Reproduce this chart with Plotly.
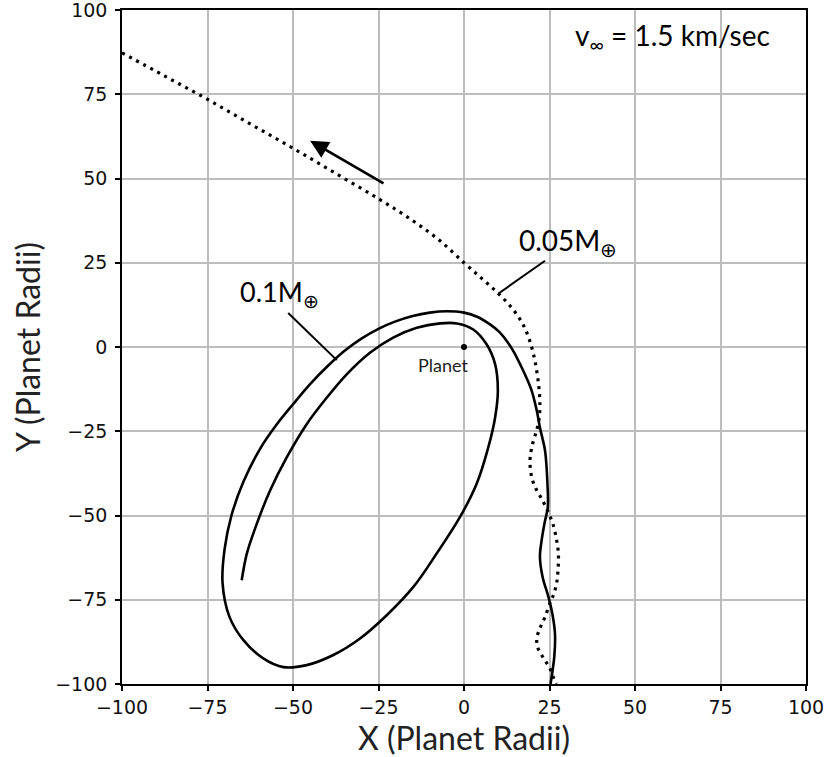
import plotly.graph_objects as go

# 0.05 Earth-mass trajectory (dotted, escaping)
x_005 = [-100, -87.5, -75, -62.5, -50, -37.5, -25, -15, -7, 0, 5, 9.6, 13.8, 17, 19, 20.4,
         21.4, 22, 22.2, 22, 21.3, 20, 19.3, 19.8, 21, 22.7, 24.4, 26, 27.1, 27.6, 27.5, 27.1,
         26.2, 25.3, 23.7, 22.2, 21.3, 21.5, 22.7, 24, 25.1, 26.6, 27]
y_005 = [87.3, 80.4, 73.5, 66.2, 59, 51.5, 44, 37.5, 31.5, 25, 20.5, 16.3, 11.8, 7.2, 2.5, -2.5,
         -8, -13, -17.5, -21, -24.5, -29, -33.7, -38.7, -42, -45, -48.5, -52.5, -57.4, -61.3, -66, -70,
         -73.5, -75.5, -80.1, -83.5, -86.4, -89, -91.4, -93.5, -95.3, -99.3, -100]

# 0.1 Earth-mass trajectory (solid, captured)
x_01 = [25.3, 26.4, 26.6, 25.8, 24.7, 23, 22.2, 22.7, 23.6, 24.5, 24.4, 23.7, 22.2, 21.3, 19.8,
        18, 16.4, 14.6, 12.5, 10.3, 7.6, 4, 0, -5, -10, -15, -20, -25, -30, -35, -40, -45, -50,
        -55, -59.5, -64.5, -68, -70, -70.6, -68.6, -64.5, -58.7, -52.8, -46, -38.2, -30.4,
        -22.6, -14.8, -8, -1.2, 3.7, 7.1, 9.1, 9.9, 9.1, 6.6, 2.7, -2.1, -7, -13.8, -20.7, -27.5,
        -34.3, -40.1, -46, -51.8, -56.7, -60.6, -63.5, -65]
y_01 = [-100, -91.9, -85, -79, -74.2, -68.3, -62.3, -57.4, -52, -47.5, -40.6, -30.8, -23.9, -19,
        -13, -8.5, -5.1, -1.5, 1.8, 4.5, 6.7, 8.9, 10.2, 10.6, 10.2, 9.2, 7.6, 5.4, 2.5, -1.2, -5.8,
        -11, -17, -23.3, -30, -40, -50, -60, -70, -80, -87, -92.4, -95, -94.4, -91.4,
        -86.5, -79.6, -71.2, -61.3, -50.5, -40.6, -29.8, -20.9, -13, -5.1, 0.8, 5.2, 7, 7, 5.7,
        2.8, -1.7, -8.1, -15, -22.9, -32.7, -42.6, -52.5, -61.3, -69.2]

planet_xy = [0, 0]
tick_vals = [-100, -75, -50, -25, 0, 25, 50, 75, 100]

# annotation anchors (data units)
arrow_tail = [-23.1, 48.3]
arrow_head = [-45, 61.2]
leader_005 = [23.7, 25.6, 10, 15.8]
leader_01 = [-51.4, 10.1, -37.2, -3.9]
label_005_pos = [15.6, 31.2]
label_01_pos = [-66, 15.8]
vinf_pos = [31.8, 92]
planet_label_pos = [-6, -5.2]

TXT_FONT = "Lato"

fig = go.Figure()
fig.add_trace(go.Scatter(x=x_005, y=y_005, mode="lines",
                         line=dict(color="black", width=3.2, dash="3px,5px", shape="spline",
                                   smoothing=1.0),
                         hoverinfo="skip"))
fig.add_trace(go.Scatter(x=x_01, y=y_01, mode="lines",
                         line=dict(color="black", width=2.6, shape="spline", smoothing=1.0),
                         hoverinfo="skip"))
fig.add_trace(go.Scatter(x=[planet_xy[0]], y=[planet_xy[1]], mode="markers",
                         marker=dict(color="black", size=6), hoverinfo="skip"))

fig.add_shape(type="line", x0=leader_005[0], y0=leader_005[1], x1=leader_005[2], y1=leader_005[3],
              line=dict(color="black", width=2))
fig.add_shape(type="line", x0=leader_01[0], y0=leader_01[1], x1=leader_01[2], y1=leader_01[3],
              line=dict(color="black", width=2))

fig.add_annotation(x=arrow_head[0], y=arrow_head[1], ax=arrow_tail[0], ay=arrow_tail[1],
                   xref="x", yref="y", axref="x", ayref="y", text="", showarrow=True,
                   arrowhead=2, arrowsize=1.3, arrowwidth=2.8, arrowcolor="black")

fig.add_annotation(x=label_005_pos[0], y=label_005_pos[1], xref="x", yref="y",
                   text="0.05M<sub>⊕</sub>", showarrow=False, xanchor="left", yanchor="middle",
                   font=dict(family=TXT_FONT, size=28, color="black"))
fig.add_annotation(x=label_01_pos[0], y=label_01_pos[1], xref="x", yref="y",
                   text="0.1M<sub>⊕</sub>", showarrow=False, xanchor="left", yanchor="middle",
                   font=dict(family=TXT_FONT, size=27, color="black"))
fig.add_annotation(x=vinf_pos[0], y=vinf_pos[1], xref="x", yref="y",
                   text="v<sub>∞</sub> = 1.5 km/sec", showarrow=False, xanchor="left", yanchor="middle",
                   font=dict(family=TXT_FONT, size=28, color="black"))
fig.add_annotation(x=planet_label_pos[0], y=planet_label_pos[1], xref="x", yref="y",
                   text="Planet", showarrow=False, xanchor="center", yanchor="middle",
                   font=dict(family=TXT_FONT, size=18, color="#222"))

# X-axis title placed as paper-anchored text just under the tick labels
fig.add_annotation(x=0.5, y=-0.048, xref="paper", yref="paper",
                   text="X (Planet Radii)", showarrow=False, xanchor="center", yanchor="top",
                   font=dict(family=TXT_FONT, size=32, color="#222"))

axis_common = dict(
    tickvals=tick_vals, showgrid=True, gridcolor="#bdbdbd", gridwidth=1.6,
    showline=True, linecolor="black", linewidth=1.6, mirror=True,
    ticks="outside", ticklen=5, tickwidth=1.5, tickcolor="black",
    tickfont=dict(family="DejaVu Sans", size=19, color="#111"),
    zeroline=False, range=[-100, 100], ticklabeloverflow="allow", automargin=False,
)
fig.update_xaxes(**axis_common, ticklabelstandoff=0)
fig.update_yaxes(**axis_common, ticklabelstandoff=4,
                 title=dict(text="Y (Planet Radii)", font=dict(family=TXT_FONT, size=32, color="#222"),
                            standoff=5))

fig.update_layout(
    width=827, height=757, showlegend=False,
    plot_bgcolor="white", paper_bgcolor="white",
    margin=dict(l=122, r=21, t=10, b=73),
)

fig.write_html("out.html")
